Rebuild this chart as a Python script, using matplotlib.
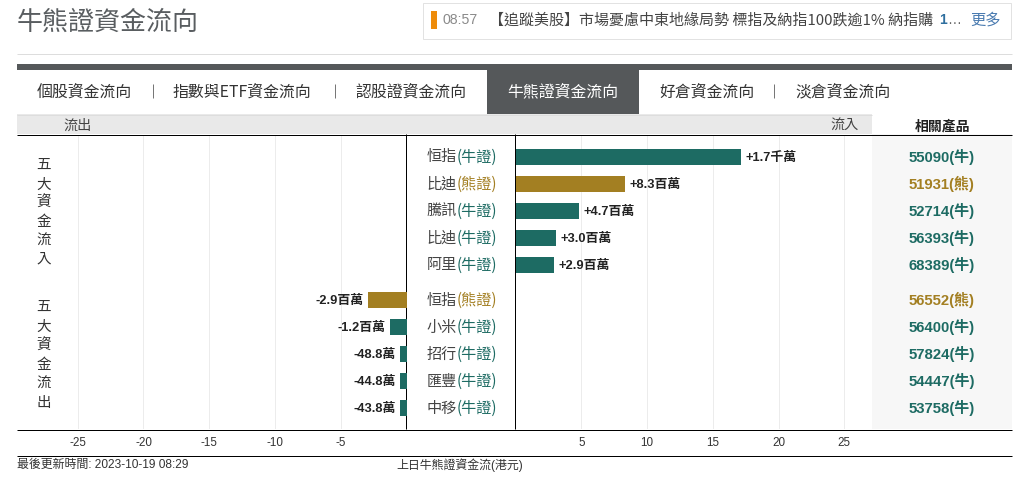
import matplotlib
matplotlib.use("Agg")
import matplotlib.pyplot as plt
from matplotlib.patches import Rectangle

W, H = 1019, 491
SANS = ['Liberation Sans', 'Noto Sans CJK TC']
CJK = ['Noto Sans CJK TC', 'Liberation Sans']
TEAL = '#1d6b63'
GOLD = '#a37f22'

# ---- data ----
in_names = ['恒指', '比迪', '騰訊', '比迪', '阿里']
in_types = ['牛證', '熊證', '牛證', '牛證', '牛證']
in_values = [17.15, 8.3, 4.8, 3.05, 2.9]
in_labels = ['+1.7千萬', '+8.3百萬', '+4.7百萬', '+3.0百萬', '+2.9百萬']
in_codes = ['55090(牛)', '51931(熊)', '52714(牛)', '56393(牛)', '68389(牛)']

out_names = ['恒指', '小米', '招行', '匯豐', '中移']
out_types = ['熊證', '牛證', '牛證', '牛證', '牛證']
out_values = [-2.9, -1.25, -0.49, -0.48, -0.48]
out_labels = ['-2.9百萬', '-1.2百萬', '-48.8萬', '-44.8萬', '-43.8萬']
out_codes = ['56552(熊)', '56400(牛)', '57824(牛)', '54447(牛)', '53758(牛)']

left_ticks = [-25, -20, -15, -10, -5]
right_ticks = [5, 10, 15, 20, 25]
tabs = ['個股資金流向', '指數與ETF資金流向', '認股證資金流向', '牛熊證資金流向', '好倉資金流向', '淡倉資金流向']

fig = plt.figure(figsize=(W / 100, H / 100), dpi=100, facecolor='white')


def axes_px(x0, y0, x1, y1, **kw):
    return fig.add_axes([x0 / W, 1 - y1 / H, (x1 - x0) / W, (y1 - y0) / H], **kw)


# page furniture, in pixel units
bg = axes_px(0, 0, W, H, zorder=0)
bg.set_xlim(0, W)
bg.set_ylim(H, 0)
bg.axis('off')


def rect(x0, y0, x1, y1, fc, ec='none', lw=0, z=1):
    bg.add_patch(Rectangle((x0, y0), x1 - x0, y1 - y0, fc=fc, ec=ec, lw=lw, zorder=z))


def line(x0, y0, x1, y1, c, lw=0.72, z=2):
    bg.plot([x0, x1], [y0, y1], color=c, lw=lw, zorder=z, solid_capstyle='butt')


def txt(x, y, s, size, color='#333333', ha='left', fam=CJK, weight='normal', z=5):
    return bg.text(x, y, s, fontsize=size, color=color, ha=ha, va='center', family=fam, weight=weight, zorder=z)


txt(17, 22, '牛熊證資金流向', 18.7, '#595d60')
rect(423.5, 2.5, 1011.5, 38.5, 'white', '#e2e2e2', 0.72)
rect(431, 11, 437, 29, '#ee8c0a')
txt(443, 20, '08:57', 10.2, '#8a8a8a', fam=SANS)
txt(489, 20, '【追蹤美股】市場憂慮中東地緣局勢 標指及納指100跌逾1% 納指購', 10.8, '#444444', fam=CJK)
txt(939, 20, '1', 10, '#2f6f9f', fam=SANS, weight='bold')
txt(947, 20, '…', 10, '#666666', fam=SANS)
txt(970, 20, '更多', 11, '#4a7bb0')
line(17, 53.5, 1012, 53.5, '#dddddd')

rect(17, 64, 1012, 70, '#55585a')
rect(487, 70, 639, 114, '#55585a')
tab_x = [37, 173, 355, 507, 659, 795]
for t, x in zip(tabs, tab_x):
    active = t == '牛熊證資金流向'
    txt(x, 92, t, 11.4, 'white' if active else '#333333')
for x in [153, 335, 774]:
    line(x + 0.5, 84, x + 0.5, 98, '#777777')

rect(17, 114, 872, 134, '#e9e9e9')
line(17, 114.5, 872, 114.5, '#dddddd')
txt(63, 126, '流出', 10.2, '#444444')
txt(830, 126, '流入', 10.2, '#444444')
txt(942, 126, '相關產品', 10, '#222222', ha='center', weight='bold')
rect(872, 134, 1012, 429, '#f7f7f7')

for ch, y in zip('五大資金流入', [165, 185, 203, 222, 241, 259]):
    txt(44, y, ch, 10.5, '#333333', ha='center')
for ch, y in zip('五大資金流出', [307, 327, 346, 365, 384, 403]):
    txt(44, y, ch, 10.5, '#333333', ha='center')

line(17, 134.5, 1012, 134.5, 'black', z=6)
line(17, 429.5, 1012, 429.5, 'black', z=6)
line(17, 455.5, 1012, 455.5, 'black', z=6)
line(406.5, 134, 406.5, 429, 'black', z=6)
line(515.5, 134, 515.5, 429, 'black', z=6)
txt(17, 465, '最後更新時間: 2023-10-19 08:29', 8.6, '#333333', fam=SANS)
txt(396, 465, '上日牛熊證資金流(港元)', 8.6, '#333333', fam=SANS)

# chart axes: rows on a shared index, second block after a wider gap
PITCH = 27
rows_in = [i for i in range(len(in_values))]
rows_out = [i + len(in_values) + 0.3 for i in range(len(out_values))]
all_rows = rows_in + rows_out
Y0, Y1 = 136, 429
FIRST = 157
SCALE = 13.15
ylim = ((Y1 - FIRST) / PITCH, (Y0 - FIRST) / PITCH)

axL = axes_px(17, Y0, 406.5, Y1, zorder=2)
axR = axes_px(515.5, Y0, 872, Y1, zorder=2)
axL.set_xlim(-(406.5 - 17) / SCALE, 0)
axR.set_xlim(0, (872 - 515.5) / SCALE)
for ax, ticks in [(axL, left_ticks), (axR, right_ticks)]:
    ax.patch.set_alpha(0)
    ax.set_ylim(*ylim)
    ax.set_yticks([])
    ax.set_xticks(ticks)
    ax.set_xticklabels([str(t) for t in ticks], family=SANS, fontsize=8.4, color='#333333')
    ax.tick_params(axis='x', length=0, pad=6)
    ax.grid(axis='x', color='#ececec', lw=0.72)
    ax.set_axisbelow(True)
    for s in ax.spines.values():
        s.set_visible(False)


def color_of(kind):
    return GOLD if kind == '熊證' else TEAL


bar_h = 16 / PITCH
axR.barh(rows_in, in_values, height=bar_h, color=[color_of(t) for t in in_types])
axL.barh(rows_out, out_values, height=bar_h, color=[color_of(t) for t in out_types])

for r, v, lab in zip(rows_in, in_values, in_labels):
    axR.annotate(lab, (v, r), xytext=(3.4, -0.8), textcoords='offset points', ha='left', va='center',
                 fontsize=9.3, family=SANS, weight='bold', color='#222222', annotation_clip=False)
for r, v, lab in zip(rows_out, out_values, out_labels):
    axL.annotate(lab, (v, r), xytext=(-3.4, -0.8), textcoords='offset points', ha='right', va='center',
                 fontsize=9.3, family=SANS, weight='bold', color='#222222', annotation_clip=False)

# centre labels and product codes, following the chart rows
for r, name, kind, code in zip(all_rows, in_names + out_names, in_types + out_types, in_codes + out_codes):
    y = FIRST + r * PITCH
    c = color_of(kind)
    txt(457, y, name, 10.9, '#444444', ha='right')
    txt(456.5, y, '(' + kind + ')', 10.9, c, ha='left', weight='medium')
    txt(942, y, code, 10.7, c, ha='center', fam=SANS, weight='bold')

fig.savefig('out.png', dpi=100, facecolor='white')
